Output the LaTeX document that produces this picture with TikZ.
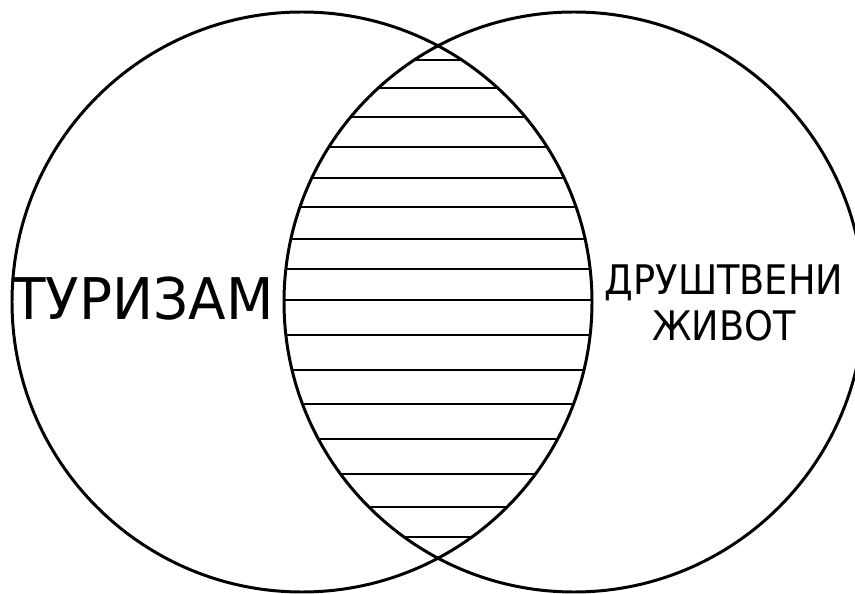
\documentclass[tikz,border=0pt]{standalone}
\usepackage{fontspec}
\setmainfont{DejaVu Sans}
\newfontfamily\widefont[FakeStretch=0.955]{DejaVu Sans}
\newfontfamily\narrowfont[FakeStretch=0.9]{DejaVu Sans}
\usepackage{tikz}
\usetikzlibrary{positioning}
\definecolor{mydark}{RGB}{0,0,0}
\tikzset{
  ring/.style={draw=mydark, line width=1.7pt},
  hatchline/.style={draw=mydark, line width=1.4pt},
  bigtag/.style={font=\widefont\fontsize{32.7}{36}\selectfont, color=mydark, inner sep=0pt},
  smalltag/.style={font=\narrowfont\fontsize{23.2}{26.6}\selectfont, color=mydark,
    align=center, inner sep=0pt}
}

\begin{document}
\begin{tikzpicture}[x=0.02cm, y=-0.02cm]
  \useasboundingbox (0,0) rectangle (855,594);
  \clip (0,0) rectangle (855,594);
  % the two sets
  \draw[ring] (302,302) circle[radius=290];
  \draw[ring] (574,302) circle[radius=290];
  % hatching of the common part
  \begin{scope}
    \clip (302,302) circle[radius=290];
    \clip (574,302) circle[radius=290];
    \foreach \yy in {60,88,117,147,178,207,239,269,300,335,370,404,439,474,507,537}
      \draw[hatchline] (270,\yy) -- (610,\yy);
  \end{scope}
  % labels
  \node[bigtag] (tourism) at (143,299) {ТУРИЗАМ};
  \node[smalltag] (social) at (724,303) {ДРУШТВЕНИ\\ЖИВОТ};
\end{tikzpicture}
\end{document}
